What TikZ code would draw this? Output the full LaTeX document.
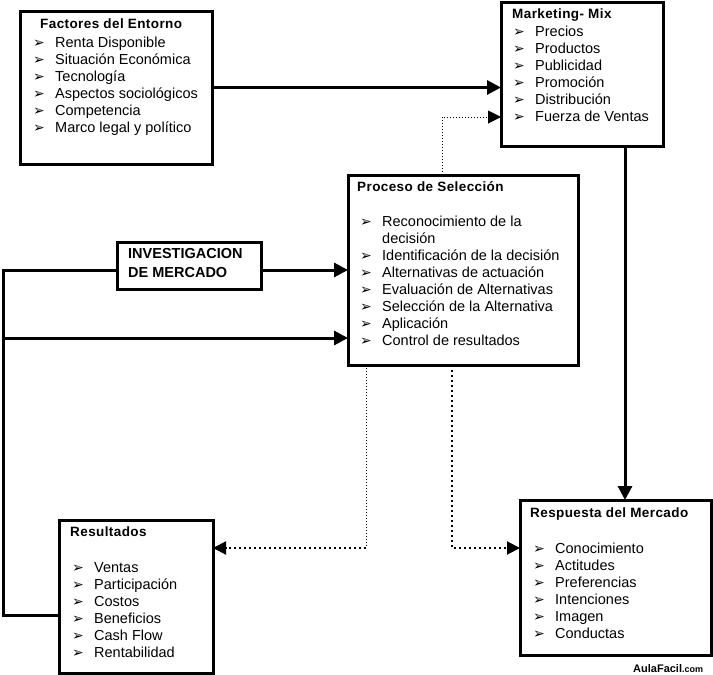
\documentclass[tikz,border=0pt]{standalone}
\usepackage{fontspec}
\setmainfont{Liberation Sans}
\newfontfamily\hfont[LetterSpace=3]{Liberation Sans}
\newfontfamily\dvfont{DejaVu Sans}
\usetikzlibrary{arrows.meta}
\newcommand\bulmark{{\dvfont\fontsize{14}{14}\selectfont ➢}}
\tikzset{
 box/.style={draw, line width=3pt, inner sep=0pt, outer sep=0pt, anchor=north west},
 item/.style={anchor=base west, inner sep=0pt, font=\fontsize{14.5}{17}\selectfont, execute at begin node={\makebox[22pt][l]{\bulmark}}},
 plain/.style={anchor=base west, inner sep=0pt, font=\fontsize{14.5}{17}\selectfont},
 head/.style={anchor=base west, inner sep=0pt, font=\hfont\bfseries\fontsize{13.5}{15}\selectfont},
 invtext/.style={anchor=base west, inner sep=0pt, font=\bfseries\fontsize{14.5}{17}\selectfont},
 conn/.style={line width=3pt, miter limit=10},
 arr/.style={-{Triangle[length=14pt,width=14pt]}},
 thindot/.style={line width=1pt, dash pattern=on 1pt off 2pt},
 thickdot/.style={line width=2pt, dash pattern=on 2pt off 3pt},
 darr/.style={-{Triangle[length=13pt,width=13pt]}},
}
\begin{document}
\begin{tikzpicture}[x=1pt,y=-1pt]
\useasboundingbox[fill=white] (0,0) rectangle (713,675);

% boxes
\node[box, minimum width=192pt, minimum height=153pt] (fac) at (20,11) {};
\node[box, minimum width=162pt, minimum height=144pt] (mkt) at (501,2) {};
\node[box, minimum width=230pt, minimum height=190pt] (pro) at (348,175) {};
\node[box, minimum width=144pt, minimum height=47pt] (inv) at (117,242) {};
\node[box, minimum width=154pt, minimum height=153pt] (res) at (59,520) {};
\node[box, minimum width=191pt, minimum height=155pt] (rsp) at (520,500) {};

% Factores del Entorno
\node[head] (facH) at (40,28) {Factores del Entorno};
\foreach \t [count=\i from 0] in {Renta Disponible, Situación Económica, Tecnología, Aspectos sociológicos, Competencia, Marco legal y político}
  \node[item] (fac-\i) at (33,{47+17*\i}) {\t};

% Marketing-Mix
\node[head] (mktH) at (512,18.5) {Marketing- Mix};
\foreach \t [count=\i from 0] in {Precios, Productos, Publicidad, Promoción, Distribución, Fuerza de Ventas}
  \node[item] (mkt-\i) at (513,{36.7+17*\i}) {\t};

% Proceso de Seleccion
\node[head] (proH) at (357,191.7) {Proceso de Selección};
\node[item] (pro-0) at (360,226.7) {Reconocimiento de la};
\node[plain] (pro-0b) at (382,243.6) {decisión};
\foreach \t [count=\i from 2] in {Identificación de la decisión, Alternativas de actuación, Evaluación de Alternativas, Selección de la Alternativa, Aplicación, Control de resultados}
  \node[item] (pro-\i) at (360,{226.7+16.9*\i}) {\t};

% Investigacion
\node[invtext] (inv1) at (128,258.3) {INVESTIGACION};
\node[invtext] (inv2) at (128,277.3) {DE MERCADO};

% Resultados
\node[head] (resH) at (70,536.7) {Resultados};
\foreach \t [count=\i from 0] in {Ventas, Participación, Costos, Beneficios, Cash Flow, Rentabilidad}
  \node[item] (res-\i) at (72,{572.3+17.1*\i}) {\t};

% Respuesta del Mercado
\node[head] (rspH) at (530,517.7) {Respuesta del Mercado};
\foreach \t [count=\i from 0] in {Conocimiento, Actitudes, Preferencias, Intenciones, Imagen, Conductas}
  \node[item] (rsp-\i) at (533,{553.3+17*\i}) {\t};

% watermark
\node[anchor=base west, inner sep=0pt] (logo) at (633,672) {\bfseries\fontsize{11}{13}\selectfont AulaFacil\fontsize{9}{11}\selectfont.com};

% coordinates
\coordinate (L1) at (3,270);
\coordinate (L2) at (3,338);
\coordinate (L3) at (3,615);
\coordinate (D1) at (442,117);
\coordinate (C2) at (625,0);
\coordinate (C4) at (366,548);
\coordinate (C5) at (452,548);

% connectors
\draw[conn, arr] (fac.east) -- (mkt.west |- fac.east);
\draw[thindot, darr] (pro.north -| D1) -- (D1) -- (mkt.west |- D1);
\draw[conn, arr] (mkt.south -| C2) -- (rsp.north -| C2);
\draw[conn] (inv.west |- L1) -- (L1) -- (L3) -- (res.west |- L3);
\draw[conn, arr] (inv.east |- L1) -- (pro.west |- L1);
\draw[conn, arr] (L2) -- (pro.west |- L2);
\draw[thindot] (pro.south -| C4) -- (C4);
\draw[thickdot, darr] (C4) -- (res.east |- C4);
\draw[thickdot, darr] (pro.south -| C5) -- (C5) -- (rsp.west |- C5);
\end{tikzpicture}
\end{document}
